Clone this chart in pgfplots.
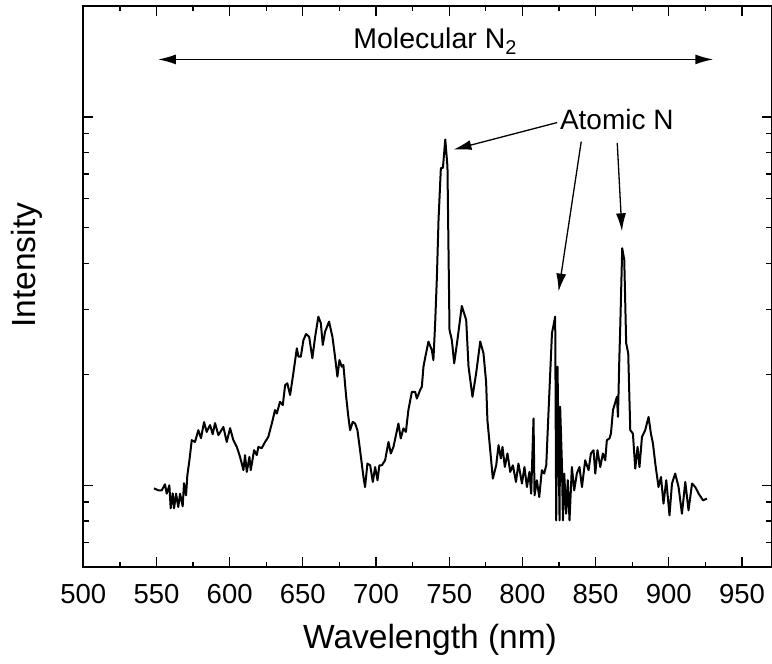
\documentclass[border=0pt]{standalone}
\usepackage{fontspec}
\setmainfont{Liberation Sans}
\usepackage{pgfplots}
\pgfplotsset{compat=1.18}
\usetikzlibrary{arrows.meta}
\begin{document}
\begin{tikzpicture}
\useasboundingbox (-83.3bp,-97bp) rectangle (688.7bp,567bp);
\begin{axis}[
  at={(0,0)}, anchor=south west,
  scale only axis, width=688.5bp, height=561bp,
  xmin=500, xmax=970.4, ymin=0.6, ymax=20, ymode=log,
  xtick={500,550,...,950}, minor x tick num=1,
  ytick={1,10}, yticklabels={,,},
  yticklabel style={opacity=0},
  minor ytick={0.7,0.8,0.9,2,3,4,5,6,7,8,9},
  tick align=inside, tick pos=both,
  major tick length=10bp, minor tick length=5.5bp,
  every tick/.style={black, line width=1.3bp},
  axis line style={line width=1.8bp},
  /pgf/number format/assume math mode=true,
  xticklabel style={font=\fontsize{27.5bp}{30bp}\selectfont, anchor=base, yshift=-36bp},
  xlabel={Wavelength (nm)},
  ylabel={Intensity},
  xlabel style={font=\fontsize{33.5bp}{38bp}\selectfont, at={(axis description cs:0.5036,-0.1444)}, anchor=base},
  ylabel style={font=\fontsize{33.5bp}{38bp}\selectfont, at={(axis description cs:-0.069,0.538)}, anchor=base, rotate=0},
  clip=false,
]
\addplot[black, line width=2bp, line join=round, mark=none] coordinates {
(548.3,0.981) (551.3,0.969) (553.6,0.969) (555.8,1.006) (557.0,0.949) (558.8,1.000)
(559.7,0.866) (561.1,0.951) (562.0,0.866) (563.4,0.949) (564.9,0.873) (566.1,0.949)
(567.9,0.877) (568.8,1.013) (570.2,0.939) (571.1,1.065) (572.5,1.169) (574.1,1.326)
(576.3,1.311) (578.6,1.411) (580.4,1.342) (582.5,1.484) (584.3,1.396) (586.6,1.457)
(588.4,1.376) (590.0,1.475) (592.3,1.368) (595.7,1.440) (598.0,1.311) (600.3,1.429)
(602.5,1.326) (604.9,1.271) (607.1,1.194) (609.4,1.099) (610.5,1.207) (611.7,1.087)
(613.5,1.194) (614.4,1.099) (616.7,1.245) (618.5,1.207) (619.6,1.271) (621.9,1.261)
(624.2,1.311) (626.4,1.353) (628.8,1.471) (631.0,1.600) (632.2,1.566) (634.4,1.685)
(636.3,1.651) (637.9,1.871) (639.4,1.891) (641.3,1.758) (643.5,2.014) (645.9,2.354)
(647.0,2.233) (648.6,2.233) (650.4,2.478) (652.2,2.573) (654.3,2.530) (656.5,2.212)
(658.4,2.530) (660.6,2.869) (662.3,2.754) (663.6,2.404) (665.2,2.612) (667.9,2.781)
(670.2,2.530) (672.0,2.233) (673.6,1.971) (675.0,2.187) (676.6,2.098) (677.7,2.121)
(679.6,1.739) (681.1,1.533) (682.3,1.411) (684.1,1.487) (685.7,1.471) (687.3,1.411)
(689.1,1.245) (691.4,1.053) (692.5,0.989) (694.1,1.145) (696.0,1.133) (697.8,1.021)
(699.4,1.121) (701.0,1.032) (702.3,1.133) (704.0,1.133) (706.2,1.169) (708.5,1.311)
(710.1,1.220) (711.9,1.271) (715.3,1.471) (716.9,1.340) (718.7,1.427) (720.4,1.396)
(722.1,1.600) (724.5,1.794) (726.7,1.794) (727.9,1.720) (730.1,1.812) (731.3,1.851)
(732.4,2.098) (733.5,2.212) (735.8,2.455) (738.1,2.329) (739.2,2.187) (740.4,2.754)
(741.6,3.688) (742.7,5.258) (744.3,7.268) (745.7,7.268) (747.3,8.680) (748.8,7.340)
(750.2,2.640) (751.8,2.478) (753.4,2.143) (755.6,2.478) (758.6,3.067) (761.6,2.810)
(763.2,2.098) (765.9,1.739) (768.4,2.014) (771.2,2.455) (773.4,2.282) (775.2,1.910)
(776.1,1.502) (777.5,1.311) (779.8,1.043) (782.1,1.133) (783.7,1.285) (785.3,1.182)
(786.4,1.271) (788.0,1.121) (789.8,1.220) (791.7,1.087) (793.5,1.133) (795.6,1.021)
(797.3,1.145) (799.7,1.011) (801.4,1.121) (803.1,0.989) (804.8,1.087) (806.0,0.949)
(807.6,1.518) (808.3,0.939) (809.9,1.032) (811.5,0.929) (813.3,1.099) (814.9,1.076)
(816.3,1.133) (817.8,1.566) (820.2,2.585) (822.4,2.869) (823.1,0.803) (824.0,2.098)
(825.4,0.803) (825.8,1.633) (827.0,1.145) (827.7,0.803) (828.6,1.076) (829.9,0.837)
(831.0,1.032) (832.2,0.803) (833.8,1.121) (835.4,0.969) (837.2,1.076) (839.0,1.121)
(840.7,0.989) (842.9,1.169) (845.2,1.099) (846.8,1.220) (848.6,1.245) (849.8,1.076)
(851.3,1.245) (853.2,1.121) (855.0,1.220) (856.6,1.169) (857.7,1.326) (859.5,1.340)
(860.5,1.382) (861.9,1.600) (864.6,1.739) (865.3,1.533) (866.2,2.187) (866.8,2.640)
(868.2,4.400) (869.6,4.090) (870.9,2.430) (872.3,2.282) (873.7,1.411) (875.5,1.382)
(877.1,1.110) (878.7,1.271) (880.0,1.121) (881.7,1.353) (883.9,1.411) (886.2,1.533)
(887.8,1.382) (889.2,1.298) (890.8,1.145) (893.0,0.989) (894.7,1.053) (896.4,0.892)
(898.3,1.032) (900.5,0.829) (902.2,1.011) (904.4,1.076) (906.7,0.989) (909.0,0.837)
(911.3,1.021) (913.5,0.855) (915.9,1.011) (918.1,0.989) (920.4,0.949) (923.4,0.910)
(926.1,0.920)
};
% annotations
\draw[black, line width=1.5bp, {Latex[length=18bp,width=10bp]}-{Latex[length=18bp,width=10bp]}]
  (axis cs:551.0,14.32) -- (axis cs:930.4,14.32);
\node[anchor=base, inner sep=0pt, font=\fontsize{28.5bp}{32bp}\selectfont] at (axis cs:740.4,15.3) {Molecular N\textsubscript{2}};
\node[anchor=base, inner sep=0pt, font=\fontsize{28bp}{32bp}\selectfont] at (axis cs:864.5,9.24) {Atomic N};
\draw[black, line width=1.3bp, -{Latex[length=18bp,width=10bp]}] (axis cs:823.7,9.65) -- (axis cs:752.9,8.15);
\draw[black, line width=1.3bp, -{Latex[length=18bp,width=10bp]}] (axis cs:840.2,8.57) -- (axis cs:824.7,3.356);
\draw[black, line width=1.3bp, -{Latex[length=18bp,width=10bp]}] (axis cs:864.8,8.50) -- (axis cs:868.0,4.89);
\end{axis}
\end{tikzpicture}
\end{document}
